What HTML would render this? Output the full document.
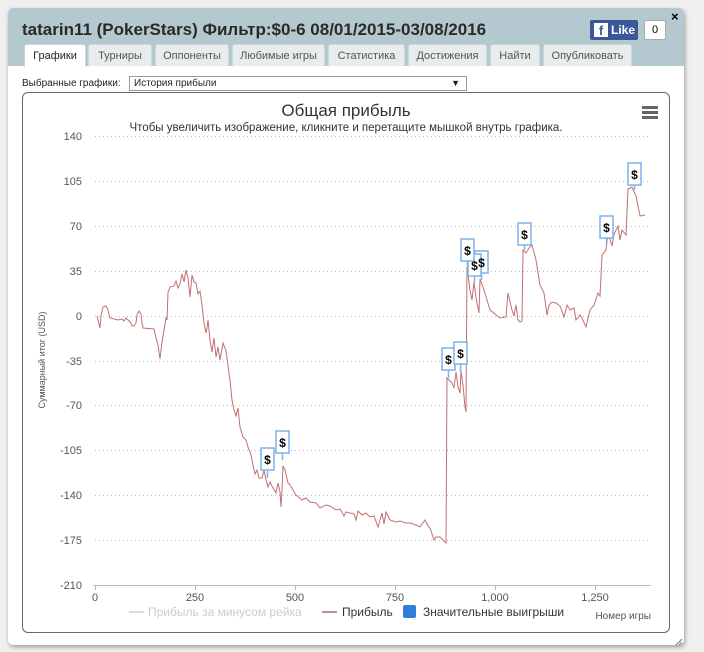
<!DOCTYPE html>
<html><head><meta charset="utf-8"><style>
body{margin:0;width:704px;height:652px;background:#efefef;font-family:"Liberation Sans","DejaVu Sans",sans-serif;position:relative;overflow:hidden}
.win{position:absolute;left:8px;top:8px;width:676px;height:637px;background:#fff;border-radius:5px;box-shadow:1px 2px 4px rgba(0,0,0,.35)}
.hdr{position:absolute;left:0;top:0;width:676px;height:58px;background:#b4c8cf;border-radius:5px 5px 0 0}
.title{position:absolute;left:14px;top:12px;font-size:17px;font-weight:bold;color:#2a2a2a}
.tab{position:absolute;top:36px;height:22px;background:#e9ecec;border:1px solid #cfd6d8;border-bottom:none;border-radius:3px 3px 0 0;font-size:11px;color:#555;text-align:center;line-height:22px;box-sizing:border-box}
.tab.a{background:#fff;color:#222;height:23px}
.fb{position:absolute;left:582px;top:12px;width:48px;height:20px;background:#3b5998;border-radius:2px;color:#fff;font-size:12px;font-weight:bold;line-height:20px}
.cnt{position:absolute;left:636px;top:12px;width:22px;height:20px;border:1px solid #aaa;box-sizing:border-box;background:#fff;font-size:11px;text-align:center;line-height:18px;border-radius:2px}
</style></head><body>
<div class="win">
<div class="hdr">
<div class="title">tatarin11 (PokerStars) Фильтр:$0-6 08/01/2015-03/08/2016</div>
<div class="tab a" style="left:16px;width:62px">Графики</div>
<div class="tab" style="left:80px;width:64px">Турниры</div>
<div class="tab" style="left:147px;width:74px">Оппоненты</div>
<div class="tab" style="left:224px;width:93px">Любимые игры</div>
<div class="tab" style="left:320px;width:77px">Статистика</div>
<div class="tab" style="left:400px;width:79px">Достижения</div>
<div class="tab" style="left:482px;width:50px">Найти</div>
<div class="tab" style="left:535px;width:89px">Опубликовать</div>
<div class="fb"><span style="display:inline-block;width:14px;height:14px;background:#fff;color:#3b5998;margin:3px 3px 0 4px;vertical-align:top;line-height:16px;text-align:center;font-size:13px">f</span>Like</div>
<div class="cnt">0</div>
<div style="position:absolute;left:663px;top:1px;font-size:13px;font-weight:bold">×</div>
</div>
</div>
<div style="position:absolute;left:22px;top:78px;font-size:10px;color:#222">Выбранные графики:</div>
<div style="position:absolute;left:129px;top:76px;width:338px;height:15px;border:1px solid #999;box-sizing:border-box;font-size:10px;line-height:13px;padding-left:4px;color:#222">История прибыли<span style="position:absolute;right:6px;font-size:9px">▼</span></div>
<div style="position:absolute;left:22px;top:92px;width:648px;height:541px;border:1px solid #666;border-radius:6px;box-sizing:border-box"></div>
<svg style="position:absolute;left:0;top:0" width="704" height="652" font-family="Liberation Sans, DejaVu Sans, sans-serif">
<text x="346" y="116" font-size="17" text-anchor="middle" fill="#333">Общая прибыль</text>
<text x="346" y="131" font-size="11.5" text-anchor="middle" fill="#333">Чтобы увеличить изображение, кликните и перетащите мышкой внутрь графика.</text>
<g fill="#666"><rect x="642" y="106" width="16" height="3"/><rect x="642" y="111" width="16" height="3"/><rect x="642" y="116" width="16" height="3"/></g>
<g stroke="#bbb" stroke-dasharray="1,3" stroke-width="1">
<line x1="95" y1="136.5" x2="651" y2="136.5"/><line x1="95" y1="181.5" x2="651" y2="181.5"/><line x1="95" y1="226.5" x2="651" y2="226.5"/><line x1="95" y1="271.5" x2="651" y2="271.5"/><line x1="95" y1="316.5" x2="651" y2="316.5"/><line x1="95" y1="361.5" x2="651" y2="361.5"/><line x1="95" y1="405.5" x2="651" y2="405.5"/><line x1="95" y1="450.5" x2="651" y2="450.5"/><line x1="95" y1="495.5" x2="651" y2="495.5"/><line x1="95" y1="540.5" x2="651" y2="540.5"/>
</g>
<line x1="93" y1="585.5" x2="651" y2="585.5" stroke="#bbb"/>
<g stroke="#bbb"><line x1="95.5" y1="585" x2="95.5" y2="590"/><line x1="195.5" y1="585" x2="195.5" y2="590"/><line x1="295.5" y1="585" x2="295.5" y2="590"/><line x1="395.5" y1="585" x2="395.5" y2="590"/><line x1="495.5" y1="585" x2="495.5" y2="590"/><line x1="595.5" y1="585" x2="595.5" y2="590"/></g>
<g font-size="11" fill="#555" text-anchor="end">
<text x="82" y="140">140</text><text x="82" y="185">105</text><text x="82" y="230">70</text><text x="82" y="275">35</text><text x="82" y="320">0</text><text x="82" y="365">-35</text><text x="82" y="409">-70</text><text x="82" y="454">-105</text><text x="82" y="499">-140</text><text x="82" y="544">-175</text><text x="82" y="589">-210</text>
</g>
<g font-size="11" fill="#555" text-anchor="middle">
<text x="95" y="601">0</text><text x="195" y="601">250</text><text x="295" y="601">500</text><text x="395" y="601">750</text><text x="495" y="601">1,000</text><text x="595" y="601">1,250</text>
</g>
<text transform="translate(45,360) rotate(-90)" font-size="9" fill="#555" text-anchor="middle">Суммарный итог (USD)</text>
<polyline fill="none" stroke="#c07070" stroke-width="1" points="97,316 100,328 101,316 103,307 106,306 108,310 110,318 118,320 122,319 124,321 126,318 128,320 131,323 132,326 134,326 136,323 137,315 139,311 141,314 142,323 143,328 154,329 156,338 158,345 160,359 162,342 164,330 166,318 167,320 168,292 170,287 174,286 176,281 178,288 180,284 182,274 184,282 186,270 188,278 190,297 192,275 194,282 196,283 198,294 200,291 202,305 204,323 206,333 207,328 208,320 210,340 212,352 214,338 216,357 218,347 220,360 223,343 226,351 227,358 230,380 232,400 234,410 236,416 238,408 240,427 243,437 246,440 248,447 251,455 253,465 255,474 257,470 259,478 262,478 264,470 266,480 268,487 270,482 272,486 276,493 278,483 280,492 281,507 282,490 283,466 285,470 288,483 290,485 296,495 302,500 306,498 310,502 316,503 320,508 326,505 330,506 336,510 340,509 344,516 346,512 350,513 354,514 356,520 358,511 362,515 366,513 370,517 374,516 378,527 380,520 382,513 384,524 386,512 390,520 396,522 400,521 406,523 410,523 416,525 420,527 422,524 425,520 428,526 430,528 432,534 434,540 436,537 440,537 443,540 445,542 446,543 447,378 452,383 454,388 456,372 458,387 460,393 461,371 463,385 465,407 466,412 467,267 470,290 472,300 474,282 476,298 479,313 480,279 484,290 490,310 500,318 506,317 508,293 512,310 514,316 516,305 518,320 520,322 522,321 523,250 526,253 529,248 532,245 536,260 540,285 544,293 547,315 549,305 552,302 556,303 560,306 564,317 567,305 570,310 574,308 576,320 580,315 582,318 586,327 590,310 594,305 598,293 600,296 602,255 606,250 608,233 612,246 614,234 618,226 620,240 622,230 626,235 628,189 632,187 636,196 640,216 645,215"/>
<g stroke="#7fb2ea" stroke-width="1.5" fill="#fff">
<g><line x1="267.5" y1="471" x2="267.5" y2="478"/><rect x="261" y="448" width="13" height="22"/></g>
<g><line x1="282.5" y1="453" x2="282.5" y2="460"/><rect x="276" y="431" width="13" height="22"/></g>
<g><line x1="448.5" y1="370" x2="448.5" y2="378"/><rect x="442" y="348" width="13" height="22"/></g>
<g><line x1="460.5" y1="364" x2="460.5" y2="372"/><rect x="454" y="342" width="13" height="22"/></g>
<g><line x1="481.5" y1="274" x2="481.5" y2="280"/><rect x="475" y="251" width="13" height="22"/></g>
<g><line x1="474.5" y1="276" x2="474.5" y2="282"/><rect x="468" y="254" width="13" height="22"/></g>
<g><line x1="467.5" y1="261" x2="467.5" y2="267"/><rect x="461" y="239" width="13" height="22"/></g>
<g><line x1="524.5" y1="245" x2="524.5" y2="250"/><rect x="518" y="223" width="13" height="22"/></g>
<g><line x1="606.5" y1="238" x2="606.5" y2="244"/><rect x="600" y="216" width="13" height="22"/></g>
<g><line x1="634.5" y1="185" x2="634.5" y2="190"/><rect x="628" y="163" width="13" height="22"/></g>
</g>
<g font-size="12" font-weight="bold" fill="#000" text-anchor="middle">
<text x="267.5" y="464">$</text><text x="282.5" y="447">$</text><text x="448.5" y="364">$</text><text x="460.5" y="358">$</text><text x="481.5" y="267">$</text><text x="474.5" y="270">$</text><text x="467.5" y="255">$</text><text x="524.5" y="239">$</text><text x="606.5" y="232">$</text><text x="634.5" y="179">$</text>
</g>
<line x1="129" y1="612" x2="144" y2="612" stroke="#ddd" stroke-width="2"/>
<text x="148" y="616" font-size="12" fill="#ccc">Прибыль за минусом рейка</text>
<line x1="322" y1="612" x2="337" y2="612" stroke="#c88" stroke-width="2"/>
<text x="342" y="616" font-size="12" fill="#333">Прибыль</text>
<rect x="403" y="605" width="13" height="13" rx="2" fill="#2f7ed8"/>
<text x="423" y="616" font-size="12" fill="#333">Значительные выигрыши</text>
<text x="651" y="619" font-size="10" fill="#555" text-anchor="end">Номер игры</text>
<g stroke="#777"><line x1="676" y1="645" x2="682" y2="639"/><line x1="679" y1="645" x2="682" y2="642"/></g>
</svg>
</body></html>
